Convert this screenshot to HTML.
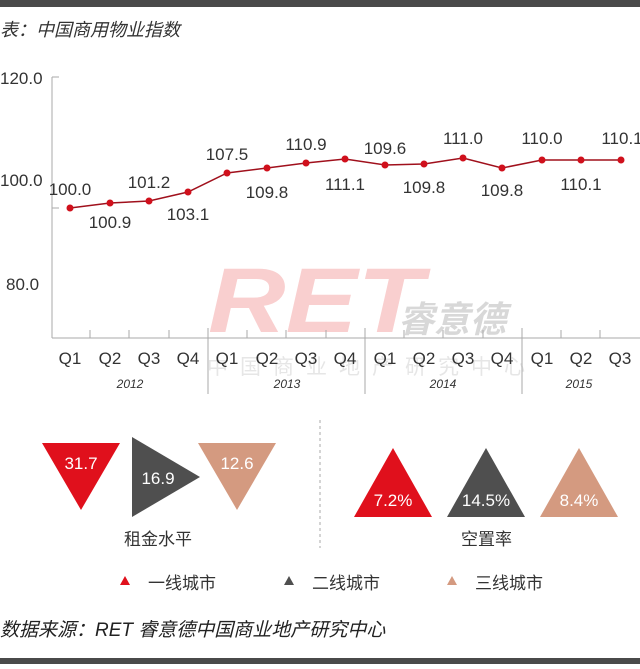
<!DOCTYPE html>
<html><head><meta charset="utf-8"><style>
body{margin:0;width:640px;height:664px;background:#fff;overflow:hidden;font-family:"Liberation Sans","Noto Sans CJK SC",sans-serif;}
</style></head><body>
<svg width="640" height="664" viewBox="0 0 640 664" xmlns="http://www.w3.org/2000/svg" font-family="Liberation Sans, Noto Sans CJK SC, sans-serif">
<rect x="0" y="0" width="640" height="7" fill="#4a4a4a"/>
<rect x="0" y="658" width="640" height="6" fill="#4a4a4a"/>
<text x="0" y="36" font-size="18" font-style="italic" fill="#333">表：中国商用物业指数</text>
<!-- watermark -->
<text x="208" y="332" font-size="92" font-weight="bold" font-style="italic" fill="#f9cfcf" textLength="215" lengthAdjust="spacingAndGlyphs">RET</text>
<text x="398" y="332" font-size="36" font-style="italic" font-weight="bold" fill="#d8d8d8">睿意德</text>
<text x="207" y="374" font-size="21" fill="#e6e6e6" letter-spacing="12">中国商业地产研究中心</text>
<!-- axes -->
<g stroke="#aaa" stroke-width="1">
<line x1="52" y1="77" x2="52" y2="338"/>
<line x1="52" y1="338" x2="640" y2="338"/>
<line x1="52" y1="77" x2="59" y2="77"/>
<line x1="52" y1="208" x2="59" y2="208"/>
<line x1="208" y1="328" x2="208" y2="394"/>
<line x1="365" y1="328" x2="365" y2="394"/>
<line x1="522" y1="328" x2="522" y2="394"/>
<line x1="90" y1="330" x2="90" y2="338"/><line x1="129" y1="330" x2="129" y2="338"/><line x1="169" y1="330" x2="169" y2="338"/>
<line x1="247" y1="330" x2="247" y2="338"/><line x1="286" y1="330" x2="286" y2="338"/><line x1="326" y1="330" x2="326" y2="338"/>
<line x1="404" y1="330" x2="404" y2="338"/><line x1="443" y1="330" x2="443" y2="338"/><line x1="483" y1="330" x2="483" y2="338"/>
<line x1="561" y1="330" x2="561" y2="338"/><line x1="600" y1="330" x2="600" y2="338"/>
</g>
<g font-size="17" fill="#333">
<text x="0" y="84">120.0</text>
<text x="0" y="186">100.0</text>
<text x="6" y="290">80.0</text>
</g>
<g font-size="17" fill="#333" text-anchor="middle">
<text x="70" y="364">Q1</text><text x="110" y="364">Q2</text><text x="149" y="364">Q3</text><text x="188" y="364">Q4</text>
<text x="227" y="364">Q1</text><text x="267" y="364">Q2</text><text x="306" y="364">Q3</text><text x="345" y="364">Q4</text>
<text x="385" y="364">Q1</text><text x="424" y="364">Q2</text><text x="463" y="364">Q3</text><text x="502" y="364">Q4</text>
<text x="542" y="364">Q1</text><text x="581" y="364">Q2</text><text x="620" y="364">Q3</text>
</g>
<g font-size="12" font-style="italic" fill="#333" text-anchor="middle">
<text x="130" y="388">2012</text><text x="287" y="388">2013</text><text x="443" y="388">2014</text><text x="579" y="388">2015</text>
</g>
<polyline fill="none" stroke="#a0101c" stroke-width="1.5" points="70,208 110,203 149,201 188,192 227,173 267,168 306,163 345,159 385,165 424,164 463,158 502,168 542,160 581,160 621,160"/>
<g fill="#d0101c">
<circle cx="70" cy="208" r="3.5"/><circle cx="110" cy="203" r="3.5"/><circle cx="149" cy="201" r="3.5"/><circle cx="188" cy="192" r="3.5"/><circle cx="227" cy="173" r="3.5"/><circle cx="267" cy="168" r="3.5"/><circle cx="306" cy="163" r="3.5"/><circle cx="345" cy="159" r="3.5"/><circle cx="385" cy="165" r="3.5"/><circle cx="424" cy="164" r="3.5"/><circle cx="463" cy="158" r="3.5"/><circle cx="502" cy="168" r="3.5"/><circle cx="542" cy="160" r="3.5"/><circle cx="581" cy="160" r="3.5"/><circle cx="621" cy="160" r="3.5"/>
</g>
<g font-size="17" fill="#333" text-anchor="middle">
<text x="70" y="195">100.0</text><text x="110" y="228">100.9</text><text x="149" y="188">101.2</text><text x="188" y="220">103.1</text>
<text x="227" y="160">107.5</text><text x="267" y="198">109.8</text><text x="306" y="150">110.9</text><text x="345" y="190">111.1</text>
<text x="385" y="154">109.6</text><text x="424" y="193">109.8</text><text x="463" y="144">111.0</text><text x="502" y="196">109.8</text>
<text x="542" y="144">110.0</text><text x="581" y="190">110.1</text><text x="622" y="144">110.1</text>
</g>
<!-- bottom -->
<line x1="320" y1="420" x2="320" y2="548" stroke="#aaa" stroke-dasharray="3,3"/>
<polygon points="42,443 120,443 81,510" fill="#e0101c"/>
<polygon points="132,437 200,477 132,517" fill="#4f4f4f"/>
<polygon points="198,443 276,443 237,510" fill="#d49a80"/>
<polygon points="393,448 432,517 354,517" fill="#e0101c"/>
<polygon points="486,448 525,517 447,517" fill="#4f4f4f"/>
<polygon points="579,448 618,517 540,517" fill="#d49a80"/>
<g font-size="17" fill="#fff" text-anchor="middle">
<text x="81" y="469">31.7</text><text x="158" y="484">16.9</text><text x="237" y="469">12.6</text>
<text x="393" y="506">7.2%</text><text x="486" y="506">14.5%</text><text x="579" y="506">8.4%</text>
</g>
<g font-size="17" fill="#333">
<text x="124" y="545">租金水平</text>
<text x="461" y="545">空置率</text>
<text x="148" y="589">一线城市</text>
<text x="312" y="589">二线城市</text>
<text x="475" y="589">三线城市</text>
</g>
<polygon points="125,576 130,585 120,585" fill="#e0101c"/>
<polygon points="289,576 294,585 284,585" fill="#4f4f4f"/>
<polygon points="452,576 457,585 447,585" fill="#d49a80"/>
<text x="0" y="636" font-size="19" font-style="italic" fill="#222">数据来源：RET 睿意德中国商业地产研究中心</text>
</svg>
</body></html>
